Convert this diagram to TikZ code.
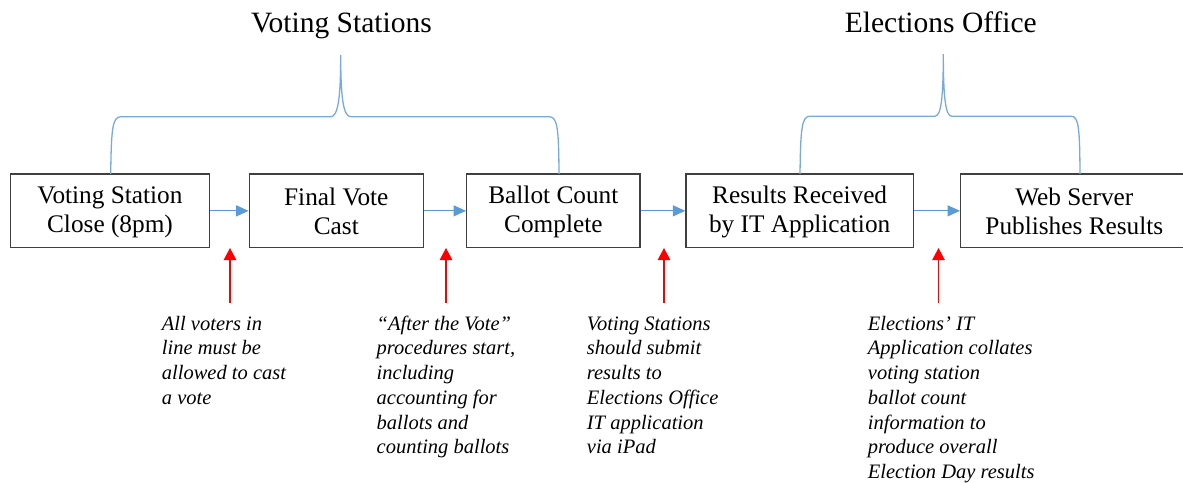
\documentclass[tikz,border=0pt]{standalone}
\usepackage{fontspec}
\setmainfont{Liberation Serif}
\usetikzlibrary{arrows.meta}
\definecolor{boxline}{RGB}{64,64,64}
\definecolor{flowblue}{RGB}{91,155,213}
\definecolor{bracecol}{RGB}{120,170,222}
\newcommand\bxs{\rule[-2.7pt]{0pt}{22.7pt}}
\newcommand\nts{\rule{0pt}{16pt}}
\begin{document}
\begin{tikzpicture}[x=1pt,y=-1pt,
  stepbox/.style={draw=boxline,line width=1.3pt,rectangle,inner sep=0pt,
    minimum height=73.7pt,align=center,font=\fontsize{25.3}{29}\selectfont},
  steplabel/.style={inner sep=0pt,align=center,font=\fontsize{25.3}{29}\selectfont},
  titletext/.style={anchor=base,inner sep=0pt,font=\fontsize{29.5}{35}\selectfont},
  notetext/.style={anchor=north west,inner sep=0pt,align=left,
    font=\fontsize{20.5}{24.7}\selectfont\itshape},
  flow/.style={draw=flowblue,line width=1.1pt,-{Triangle[length=12.5pt,width=11pt]}},
  pointer/.style={draw=red,line width=1.1pt,-{Triangle[length=12pt,width=12.5pt]}},
  bracepath/.style={draw=bracecol,line width=1.3pt}
]
\useasboundingbox (0,0) rectangle (1183,482);

% titles
\node[titletext] (t1) at (341.5,32.5) {Voting Stations};
\node[titletext] (t2) at (940.8,32.5) {Elections Office};

% boxes
\node[stepbox,minimum width=198.6pt] (b1) at (110,210.85) {\bxs Voting Station\\\bxs Close (8pm)};
\node[stepbox,minimum width=174pt] (b2) at (336.3,210.85) {\bxs Final Vote\\\bxs Cast};
\node[stepbox,minimum width=173.3pt] (b3) at (553.35,210.85) {\bxs Ballot Count\\\bxs Complete};
\node[stepbox,minimum width=227.3pt] (b4) at (799.65,210.85) {\bxs Results Received\\\bxs by IT Application};
\node[stepbox,minimum width=260pt] (b5) at (1090.7,210.85) {};
\node[steplabel] (b5t) at (1074.35,210.85) {\bxs Web Server\\\bxs Publishes Results};

% flow arrows
\draw[flow] (b1) -- (b2);
\draw[flow] (b2) -- (b3);
\draw[flow] (b3) -- (b4);
\draw[flow] (b4) -- (b5);

% braces
\draw[bracepath] (110.7,174) .. controls (111.3,128) and (112.5,116.7) .. (121,116.7)
  -- (330.7,116.7) .. controls (338,116.7) and (340.7,98) .. (340.7,55)
  .. controls (340.7,98) and (343.4,116.7) .. (350.7,116.7)
  -- (549,116.7) .. controls (557.5,116.7) and (558.7,128) .. (559,174);
\draw[bracepath] (800,174) .. controls (800.6,128) and (801.8,116.2) .. (810,116.2)
  -- (935,116.2) .. controls (941,116.2) and (943.3,98) .. (943.3,54)
  .. controls (943.3,98) and (945.6,116.2) .. (951.7,116.2)
  -- (1071,116.2) .. controls (1078.8,116.2) and (1079.7,128) .. (1080,174);

% red pointers
\coordinate (p1s) at (230,303); \coordinate (p1e) at (230,248);
\coordinate (p2s) at (446,303); \coordinate (p2e) at (446,248);
\coordinate (p3s) at (664,303); \coordinate (p3e) at (664,248);
\coordinate (p4s) at (938.5,303); \coordinate (p4e) at (938.5,248);
\draw[pointer] (p1s) -- (p1e);
\draw[pointer] (p2s) -- (p2e);
\draw[pointer] (p3s) -- (p3e);
\draw[pointer] (p4s) -- (p4e);

% notes
\node[notetext] (n1) at (161.7,314) {\nts All voters in\\line must be\\allowed to cast\\a vote};
\node[notetext] (n2) at (376.5,314) {\nts “After the Vote”\\procedures start,\\including\\accounting for\\ballots and\\counting ballots};
\node[notetext] (n3) at (586.7,314) {\nts Voting Stations\\should submit\\results to\\Elections Office\\IT application\\via iPad};
\node[notetext] (n4) at (867.7,314) {\nts Elections’ IT\\Application collates\\voting station\\ballot count\\information to\\produce overall\\Election Day results};
\end{tikzpicture}
\end{document}
